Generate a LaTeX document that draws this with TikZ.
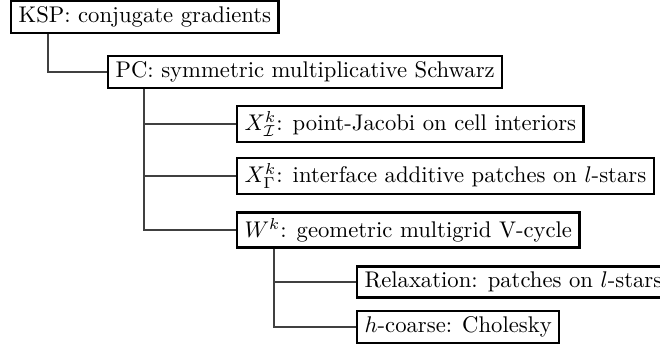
\documentclass[tikz,border=0pt]{standalone}
\usetikzlibrary{calc}
\begin{document}
\begin{tikzpicture}[x=0.441pt,y=-0.441pt,
  box/.style={draw,line width=1pt,anchor=west,inner xsep=3.3pt,inner ysep=2.4pt},
  conn/.style={draw=black!75,line width=0.45pt}]
\useasboundingbox (0,0) rectangle (660,354);
\node[box] (ksp) at (10,17) {KSP: conjugate gradients};
\node[box] (pc) at (107,72) {PC: symmetric multiplicative Schwarz};
\node[box] (xi) at (236,124) {$X^k_{\mathcal{I}}$: point-Jacobi on cell interiors};
\node[box] (xg) at (236,176) {$X^k_{\Gamma}$: interface additive patches on $l$-stars};
\node[box] (w) at (236,230) {$W^k$: geometric multigrid V-cycle};
\node[box] (rel) at (356,282) {Relaxation: patches on $l$-stars};
\node[box] (hc) at (356,327) {$h$-coarse: Cholesky};
\draw[conn] ($(ksp.south west)+(38,0)$) |- (pc.west);
\draw[conn] ($(pc.south west)+(37,0)$) |- (xi.west);
\draw[conn] ($(pc.south west)+(37,0)$) |- (xg.west);
\draw[conn] ($(pc.south west)+(37,0)$) |- (w.west);
\draw[conn] ($(w.south west)+(38,0)$) |- (rel.west);
\draw[conn] ($(w.south west)+(38,0)$) |- (hc.west);
\end{tikzpicture}
\end{document}
